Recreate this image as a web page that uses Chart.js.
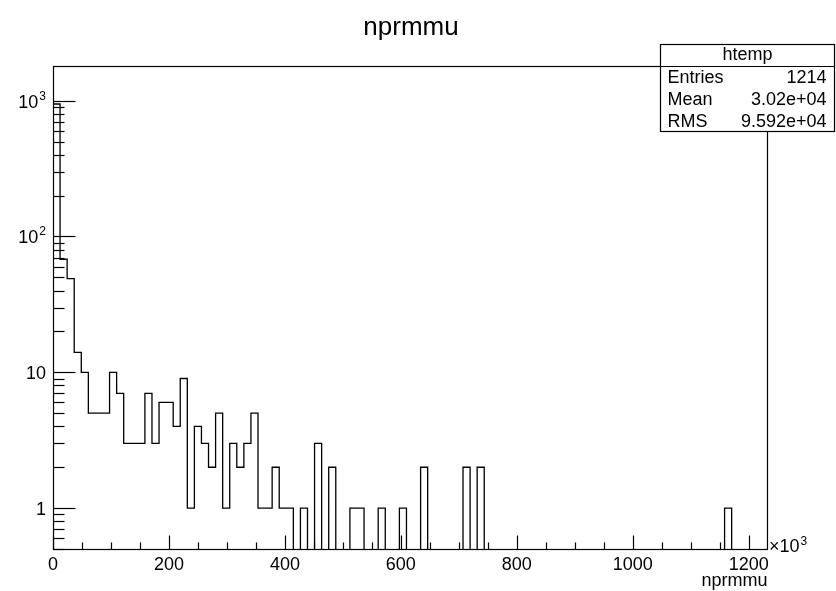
<!DOCTYPE html>
<html lang="en">
<head>
  <meta charset="UTF-8">
  <title>nprmmu</title>
  <script src="https://cdn.jsdelivr.net/npm/chart.js"></script>
  <style>
    body { margin: 0; background: #fff; }
    #wrap { width: 836px; height: 591px; }
  </style>
</head>
<body>
  <div id="wrap"><canvas id="hist" width="836" height="591"></canvas></div>

  <script>
    // htemp histogram, x in units of 10^3
    const binLow = 0;
    const binHigh = 1231.5;
    const counts = [
      945, 68, 49, 14, 10, 5, 5, 5, 10, 7,
      3, 3, 3, 7, 3, 6, 6, 4, 9, 1,
      4, 3, 2, 5, 1, 3, 2, 3, 5, 1,
      1, 2, 1, 1, 0, 1, 0, 3, 0, 2,
      0, 0, 1, 1, 0, 0, 1, 0, 0, 1,
      0, 0, 2, 0, 0, 0, 0, 0, 2, 0,
      2, 0, 0, 0, 0, 0, 0, 0, 0, 0,
      0, 0, 0, 0, 0, 0, 0, 0, 0, 0,
      0, 0, 0, 0, 0, 0, 0, 0, 0, 0,
      0, 0, 0, 0, 0, 1, 0, 0, 0, 0,
      0
    ];
    const xTicks = [0, 200, 400, 600, 800, 1000, 1200];
    const yTicks = [1, 10, 100, 1000];
    const yTickBase = ['1', '10', '10', '10'];
    const yTickExp = ['', '', '2', '3'];
    const yMin = 0.5;
    const yMax = 1800;

    const plotTitle = 'nprmmu';
    const xTitle = 'nprmmu';
    const statsName = 'htemp';
    const statsRows = [
      ['Entries', '1214'],
      ['Mean', '3.02e+04'],
      ['RMS', '9.592e+04']
    ];

    const FONT = '"Liberation Sans", Arial, Helvetica, sans-serif';
    const EMPTY = 0.1; // empty bins drop below the log axis

    // step outline points (value held until the next edge)
    const binW = (binHigh - binLow) / counts.length;
    const outline = [{ x: binLow, y: EMPTY }];
    counts.forEach((c, i) => outline.push({ x: binLow + i * binW, y: c > 0 ? c : EMPTY }));
    const lastVal = counts[counts.length - 1];
    outline.push({ x: binHigh, y: lastVal > 0 ? lastVal : EMPTY });
    outline.push({ x: binHigh, y: EMPTY });

    function line(ctx, x1, y1, x2, y2) {
      ctx.beginPath();
      ctx.moveTo(x1, y1);
      ctx.lineTo(x2, y2);
      ctx.stroke();
    }

    // frame, inward ticks, labels, title and stats box like ROOT draws them
    const rootDecor = {
      id: 'rootDecor',
      afterDraw(chart) {
        const ctx = chart.ctx;
        const a = chart.chartArea;
        const xs = chart.scales.x;
        const ys = chart.scales.y;
        const L = Math.round(a.left) + 0.5;
        const R = Math.round(a.right) + 0.5;
        const T = Math.round(a.top) + 0.5;
        const B = Math.round(a.bottom) + 0.5;

        ctx.save();
        ctx.strokeStyle = '#000';
        ctx.lineWidth = 1.2;
        ctx.strokeRect(L, T, R - L, B - T);

        // y ticks (log)
        for (let d = -1; d <= 3; d++) {
          for (let m = 1; m <= 9; m++) {
            const v = m * Math.pow(10, d);
            if (v < yMin || v > yMax) continue;
            const py = Math.round(ys.getPixelForValue(v)) + 0.5;
            line(ctx, L, py, L + (m === 1 ? 22 : 11), py);
          }
        }
        // x ticks
        for (let v = 0; v <= binHigh; v += 50) {
          const px = Math.round(xs.getPixelForValue(v)) + 0.5;
          line(ctx, px, B, px, B - (v % 200 === 0 ? 14 : 7));
        }

        // y tick labels
        ctx.fillStyle = '#000';
        ctx.textBaseline = 'alphabetic';
        yTicks.forEach((v, i) => {
          const py = ys.getPixelForValue(v);
          const right = 46;
          let expW = 0;
          if (yTickExp[i]) {
            ctx.font = '12px ' + FONT;
            expW = ctx.measureText(yTickExp[i]).width + 1;
            ctx.textAlign = 'right';
            ctx.fillText(yTickExp[i], right, py - 1);
          }
          ctx.font = '18px ' + FONT;
          ctx.textAlign = 'right';
          ctx.fillText(yTickBase[i], right - expW, py + 7);
        });

        // x10^3 multiplier
        ctx.textAlign = 'left';
        ctx.font = '18px ' + FONT;
        ctx.fillText('\u00d710', 769, 552);
        const w10 = ctx.measureText('\u00d710').width;
        ctx.font = '12px ' + FONT;
        ctx.fillText('3', 769 + w10 + 1, 545);

        // axis title
        ctx.font = '18px ' + FONT;
        ctx.textAlign = 'right';
        ctx.fillText(xTitle, R, 586);

        // plot title
        ctx.font = '26px ' + FONT;
        ctx.textAlign = 'center';
        ctx.fillText(plotTitle, 411, 35);

        // stats box
        const bx = 660.5, by = 44.5, bw = 174, bh = 87;
        const rowH = bh / (statsRows.length + 1);
        ctx.fillStyle = '#fff';
        ctx.fillRect(bx, by, bw, bh);
        ctx.strokeRect(bx, by, bw, bh);
        line(ctx, bx, Math.round(by + rowH) + 0.5, bx + bw, Math.round(by + rowH) + 0.5);
        ctx.fillStyle = '#000';
        ctx.font = '18px ' + FONT;
        ctx.textBaseline = 'middle';
        ctx.textAlign = 'center';
        ctx.fillText(statsName, bx + bw / 2, by + rowH / 2);
        statsRows.forEach((r, i) => {
          const cy = by + rowH * (i + 1.5) + 1;
          ctx.textAlign = 'left';
          ctx.fillText(r[0], bx + 7, cy);
          ctx.textAlign = 'right';
          ctx.fillText(r[1], bx + bw - 8, cy);
        });
        ctx.restore();
      }
    };

    new Chart(document.getElementById('hist').getContext('2d'), {
      type: 'line',
      data: {
        datasets: [{
          data: outline,
          stepped: 'before',
          borderColor: '#000',
          borderWidth: 1.3,
          pointRadius: 0,
          fill: false
        }]
      },
      options: {
        responsive: false,
        animation: false,
        layout: { padding: { top: 66, right: 69, left: 0, bottom: 0 } },
        plugins: {
          legend: { display: false },
          tooltip: { enabled: false },
          title: { display: false }
        },
        scales: {
          x: {
            type: 'linear',
            min: binLow,
            max: binHigh,
            afterBuildTicks: s => { s.ticks = xTicks.map(v => ({ value: v })); },
            afterFit: s => { s.height = 42; s.paddingLeft = 0; s.paddingRight = 0; },
            grid: { display: false, drawTicks: false },
            border: { display: false },
            ticks: {
              color: '#000',
              font: { family: FONT, size: 18 },
              padding: 5,
              maxRotation: 0,
              autoSkip: false,
              callback: v => String(v)
            }
          },
          y: {
            type: 'logarithmic',
            min: yMin,
            max: yMax,
            afterFit: s => { s.width = 53; s.paddingTop = 0; s.paddingBottom = 0; },
            grid: { display: false, drawTicks: false },
            border: { display: false },
            ticks: { display: false }
          }
        }
      },
      plugins: [rootDecor]
    });
  </script>
</body>
</html>
